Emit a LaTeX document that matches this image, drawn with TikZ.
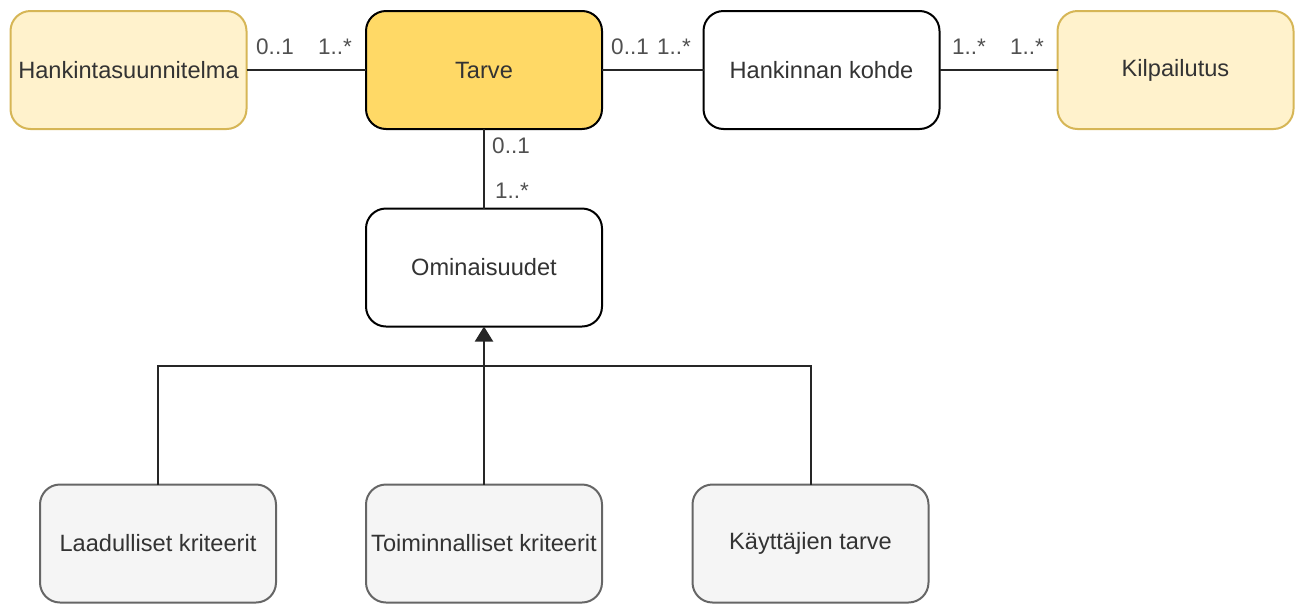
\documentclass[tikz,border=0pt]{standalone}
\usepackage{fontspec}
\setmainfont{Liberation Sans}
\usetikzlibrary{arrows.meta}
\definecolor{planfill}{HTML}{FFF2CC}
\definecolor{planline}{HTML}{D6B656}
\definecolor{needfill}{HTML}{FFD966}
\definecolor{critfill}{HTML}{F5F5F5}
\definecolor{critline}{HTML}{666666}
\definecolor{txt}{HTML}{333333}
\definecolor{multtxt}{HTML}{505050}
\tikzset{
  box/.style={draw=black, line width=2pt, rounded corners=20pt, fill=white,
    minimum width=236pt, minimum height=118pt, inner sep=0pt, outer sep=0pt,
    text=txt, font=\fontsize{23.6}{28}\selectfont},
  planbox/.style={box, draw=planline, fill=planfill},
  needbox/.style={box, fill=needfill},
  critbox/.style={box, draw=critline, fill=critfill},
  link/.style={line width=2pt, draw=black!85},
  mult/.style={text=multtxt, font=\fontsize{22.5}{26}\selectfont, inner sep=0pt}
}
\begin{document}
\begin{tikzpicture}[x=1pt, y=-1pt]
\useasboundingbox (0,0) rectangle (1295,603);

% classes
\node[planbox] (plan) at (128.5,70) {Hankintasuunnitelma};
\node[needbox] (need) at (484,70) {Tarve};
\node[box] (target) at (821.5,70) {Hankinnan kohde};
\node[planbox] (tender) at (1175.5,70) {Kilpailutus};
\node[box] (props) at (484,267.5) {Ominaisuudet};

% specialisations
\node[critbox] (qual) at (158,543.5) {Laadulliset kriteerit};
\node[critbox] (func) at (484,543.5) {Toiminnalliset kriteerit};
\node[critbox] (user) at (810.5,543.5) {Käyttäjien tarve};

% associations
\draw[link] (plan.east) -- (need.west);
\draw[link] (need.east) -- (target.west);
\draw[link] (target.east) -- (tender.west);
\draw[link] (need.south) -- (props.north);

% multiplicities
\node[mult] (m1) at (275,47) {0..1};
\node[mult] (m2) at (335,47) {1..*};
\node[mult] (m3) at (630,47) {0..1};
\node[mult] (m4) at (674,47) {1..*};
\node[mult] (m5) at (969,47) {1..*};
\node[mult] (m6) at (1027,47) {1..*};
\node[mult] (m7) at (511,146) {0..1};
\node[mult] (m8) at (512,191) {1..*};

% generalisation tree
\coordinate (bus) at (484,366);
\draw[link] (qual.north) |- (bus);
\draw[link] (user.north) |- (bus);
\draw[link, -{Triangle[width=18pt,length=15pt]}] (func.north) -- (props.south);
\end{tikzpicture}
\end{document}
